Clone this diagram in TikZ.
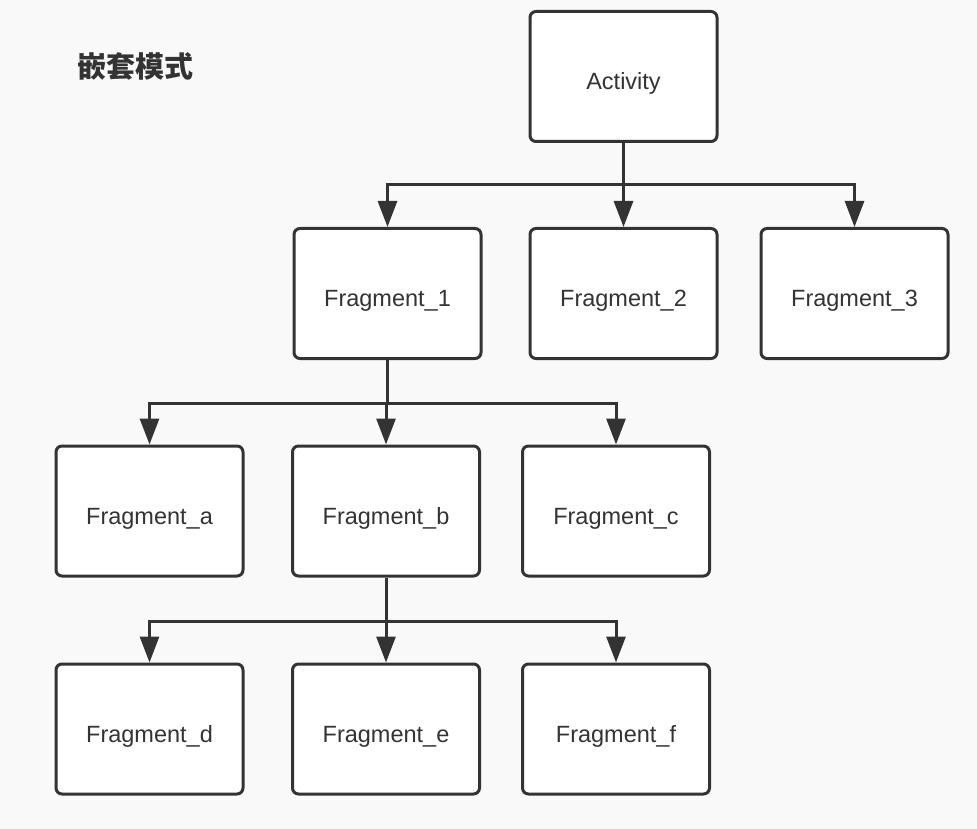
\documentclass[tikz,border=0pt]{standalone}
\usepackage{fontspec}
\setmainfont{Liberation Sans}
\newfontfamily\cjk{Noto Sans CJK SC}
\usepackage{xcolor}
\usepackage{tikz}
\usetikzlibrary{arrows.meta, positioning}

\definecolor{ink}{HTML}{333333}
\definecolor{paper}{HTML}{F9F9F9}

\begin{document}
\begin{tikzpicture}[x=1pt, y=-1pt,
    every node/.style={font=\fontsize{23.5}{28}\selectfont, text=ink},
    frag/.style={draw=ink, line width=3pt, fill=white, rounded corners=6pt,
      minimum width=187pt, minimum height=130pt, inner sep=0pt,
      text height=26pt, text depth=0pt},
    conn/.style={draw=ink, line width=3pt, -{Triangle[length=26pt, width=19pt]}},
    bar/.style={draw=ink, line width=3pt}]
  % background
  \fill[paper] (0,0) rectangle (977,829);
  \useasboundingbox (0,0) rectangle (977,829);

  \node (title) at (135,66) [font=\cjk\bfseries\fontsize{29}{33}\selectfont] {嵌套模式};

  % Activity and its fragments
  \node[frag] (act) at (623.5,76.5) {Activity};
  \node[frag] (f1) at (387.5,293.5) {Fragment\_1};
  \node[frag] (f2) at (623.5,293.5) {Fragment\_2};
  \node[frag] (f3) at (854.5,293.5) {Fragment\_3};
  \coordinate (j1) at (623.5,185);
  \draw[conn] (act.south) -- (f2.north);
  \draw[conn] (j1) -| (f1.north);
  \draw[conn] (j1) -| (f3.north);

  % children of Fragment_1
  \node[frag] (fa) at (149.5,511) {Fragment\_a};
  \node[frag] (fb) at (386,511) {Fragment\_b};
  \node[frag] (fc) at (616,511) {Fragment\_c};
  \coordinate (j2) at (387.5,403);
  \draw[bar] (f1.south) -- (j2);
  \draw[conn] (j2) -| (fa.north);
  \draw[conn] (j2) -| (fb.north);
  \draw[conn] (j2) -| (fc.north);

  % children of Fragment_b
  \node[frag] (fd) at (149.5,729) {Fragment\_d};
  \node[frag] (fe) at (386,729) {Fragment\_e};
  \node[frag] (ff) at (616,729) {Fragment\_f};
  \coordinate (j3) at (386,621);
  \draw[bar] (fb.south) -- (j3);
  \draw[conn] (j3) -| (fd.north);
  \draw[conn] (j3) -- (fe.north);
  \draw[conn] (j3) -| (ff.north);
\end{tikzpicture}
\end{document}
